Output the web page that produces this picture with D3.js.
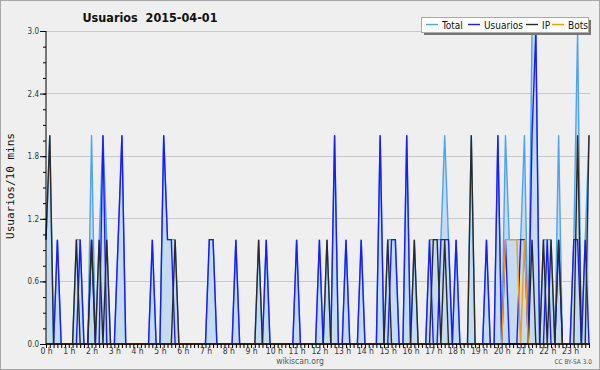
<!DOCTYPE html>
<html><head><meta charset="utf-8">
<script src="https://cdn.jsdelivr.net/npm/d3@7"></script>
<style>body{margin:0;background:#efefef;}</style>
</head><body>
<svg id="c" width="600" height="370"></svg>
<script>
const title = "Usuarios  2015-04-01";
const yTitle = "Usuarios/10 mins";
const hourLabels = d3.range(24).map(h => h + " h");
const yTicks = [0.0, 0.6, 1.2, 1.8, 2.4, 3.0];
const seriesNames = ["Total", "Usuarios", "IP", "Bots"];

// one value per 10 minutes (144 slots)
const total = [
 1,2,0,1,0,0,0,0,1,1,0,0,
 2,0,1,2,1,0,0,1,2,0,0,0,
 0,0,0,0,1,0,0,2,1,1,1,0,
 0,0,0,0,0,0,0,1,1,0,0,0,
 0,0,1,0,0,0,0,0,1,0,1,0,
 0,0,0,0,0,0,1,0,0,0,0,0,
 1,0,1,0,2,0,0,1,0,0,0,1,
 0,0,0,0,2,0,1,1,1,0,0,2,
 0,1,0,0,0,1,1,1,1,2,1,0,
 1,0,0,0,2,0,0,0,1,0,0,2,
 0,2,1,1,1,1,2,0,3,3,0,1,
 1,1,0,2,0,0,0,1,3,0,1,2];
const usuarios = [
 0,0,0,1,0,0,0,0,0,1,0,0,
 1,0,0,2,0,0,0,1,2,0,0,0,
 0,0,0,0,1,0,0,2,1,1,0,0,
 0,0,0,0,0,0,0,1,1,0,0,0,
 0,0,1,0,0,0,0,0,0,0,1,0,
 0,0,0,0,0,0,1,0,0,0,0,0,
 1,0,0,0,2,0,0,1,0,0,0,1,
 0,0,0,0,2,0,0,1,1,0,0,2,
 0,0,0,0,0,1,0,0,1,1,1,0,
 1,0,0,0,0,0,0,0,1,0,0,2,
 0,1,0,0,0,1,1,0,2,3,0,0,
 1,0,0,1,0,0,0,1,1,0,1,0];
const ip = [
 1,2,0,0,0,0,0,0,1,0,0,0,
 1,0,1,0,1,0,0,0,0,0,0,0,
 0,0,0,0,0,0,0,0,0,0,1,0,
 0,0,0,0,0,0,0,0,0,0,0,0,
 0,0,0,0,0,0,0,0,1,0,0,0,
 0,0,0,0,0,0,0,0,0,0,0,0,
 0,0,1,0,0,0,0,0,0,0,0,0,
 0,0,0,0,0,0,1,0,0,0,0,0,
 0,1,0,0,0,0,1,1,0,1,0,0,
 0,0,0,0,2,0,0,0,0,0,0,0,
 0,0,0,0,0,0,0,0,1,0,0,1,
 0,1,0,1,0,0,0,0,2,0,0,2];
const bots = [
 0,0,0,0,0,0,0,0,0,0,0,0,
 0,0,0,0,0,0,0,0,0,0,0,0,
 0,0,0,0,0,0,0,0,0,0,0,0,
 0,0,0,0,0,0,0,0,0,0,0,0,
 0,0,0,0,0,0,0,0,0,0,0,0,
 0,0,0,0,0,0,0,0,0,0,0,0,
 0,0,0,0,0,0,0,0,0,0,0,0,
 0,0,0,0,0,0,0,0,0,0,0,0,
 0,0,0,0,0,0,0,0,0,0,0,0,
 0,0,0,0,0,0,0,0,0,0,0,0,
 0,1,1,1,1,0,1,0,0,0,0,0,
 0,0,0,0,0,0,0,0,0,0,0,0];

const colors = {Total:"#4da3f0", Usuarios:"#1a1aff", IP:"#2a2a2a", Bots:"#ff9a00"};
const FONT = "'DejaVu Sans Condensed','DejaVu Sans',sans-serif";

const svg = d3.select("#c");
svg.append("rect").attr("x",0.5).attr("y",0.5).attr("width",599).attr("height",369)
  .attr("fill","#efefef").attr("stroke","#a8a8a8");

const x = d3.scaleLinear().domain([0,144]).range([46, 592.8]);
const y = d3.scaleLinear().domain([0,3]).range([344, 31]);
const xEnd = 590;

// gridlines
svg.append("g").selectAll("line").data(yTicks.filter(v=>v>0)).join("line")
  .attr("x1",46).attr("x2",xEnd).attr("y1",d=>y(d)).attr("y2",d=>y(d))
  .attr("stroke","#c9c9c9").attr("stroke-width",1).attr("shape-rendering","crispEdges");

// area under Total
const idx = d3.range(total.length);
svg.append("path").datum(idx)
  .attr("d", d3.area().x(i=>x(i)).y0(y(0)).y1(i=>y(total[i])))
  .attr("fill","#c4dbf0");

const line = arr => d3.line().x(i=>x(i)).y(i=>y(arr[i]));
[[total,"Total"],[usuarios,"Usuarios"],[ip,"IP"],[bots,"Bots"]].forEach(([arr,name])=>{
  svg.append("path").datum(idx).attr("d", line(arr)(idx))
    .attr("fill","none").attr("stroke",colors[name]).attr("stroke-width",1.4)
    .attr("stroke-linejoin","miter");
});

// y axis
const yAxis = svg.append("g").attr("transform","translate(46,0)")
  .call(d3.axisLeft(y).tickValues(yTicks).tickFormat(d3.format(".1f")).tickSize(6).tickPadding(1));
yAxis.select(".domain").attr("stroke","#000").attr("d","M0,31V344");
yAxis.selectAll("text").attr("font-family",FONT).attr("font-size","8px").attr("fill","#333");
svg.append("g").attr("transform","translate(46,0)")
  .call(d3.axisLeft(y).tickValues(d3.range(0,3.01,0.15)).tickSize(3).tickFormat(""))
  .select(".domain").remove();

// x axis: 10-minute ticks
const xAxis = svg.append("g").attr("transform","translate(0,344)")
  .call(d3.axisBottom(x).tickValues(d3.range(0,144)).tickSize(4).tickFormat(""));
xAxis.select(".domain").attr("d","M46,0H"+xEnd).attr("stroke","#000").attr("stroke-width",1.3);
const xLab = svg.append("g").attr("transform","translate(0,344)")
  .call(d3.axisBottom(x).tickValues(d3.range(0,24).map(h=>h*6)).tickSize(0).tickPadding(4)
  .tickFormat((d,i)=>hourLabels[i]));
xLab.select(".domain").remove();
xLab.selectAll("text").attr("font-family",FONT).attr("font-size","8.5px").attr("fill","#333");

// title
svg.append("text").attr("x",150).attr("y",22).attr("text-anchor","middle")
  .attr("font-family",FONT).attr("font-weight","bold").attr("font-size","12.5px")
  .attr("fill","#111").attr("xml:space","preserve").style("white-space","pre").text(title);

// y title
svg.append("text").attr("transform","translate(14,186) rotate(-90)").attr("text-anchor","middle")
  .attr("font-family","'DejaVu Sans Mono',monospace").attr("font-size","11px").attr("fill","#111")
  .text(yTitle);

// legend
const lg = svg.append("g");
lg.append("rect").attr("x",424).attr("y",20).attr("width",167).attr("height",15).attr("fill","#777");
lg.append("rect").attr("x",421.5).attr("y",17.5).attr("width",167).attr("height",15)
  .attr("fill","#fff").attr("stroke","#aaa");
const legX = [[426,442],[468,484],[526,542],[552,568]];
seriesNames.forEach((n,k)=>{
  lg.append("line").attr("x1",legX[k][0]).attr("x2",legX[k][0]+12).attr("y1",24.5).attr("y2",24.5)
    .attr("stroke",colors[n]).attr("stroke-width",1.4);
  lg.append("text").attr("x",legX[k][1]).attr("y",28.5).attr("font-family",FONT)
    .attr("font-size","10px").attr("fill","#111").text(n);
});

// footer
svg.append("text").attr("x",300).attr("y",364).attr("text-anchor","middle")
  .attr("font-family",FONT).attr("font-size","8.5px").attr("fill","#555").text("wikiscan.org");
svg.append("text").attr("x",592).attr("y",364).attr("text-anchor","end")
  .attr("font-family",FONT).attr("font-size","6.5px").attr("fill","#555").text("CC BY-SA 3.0");
</script>
</body></html>
